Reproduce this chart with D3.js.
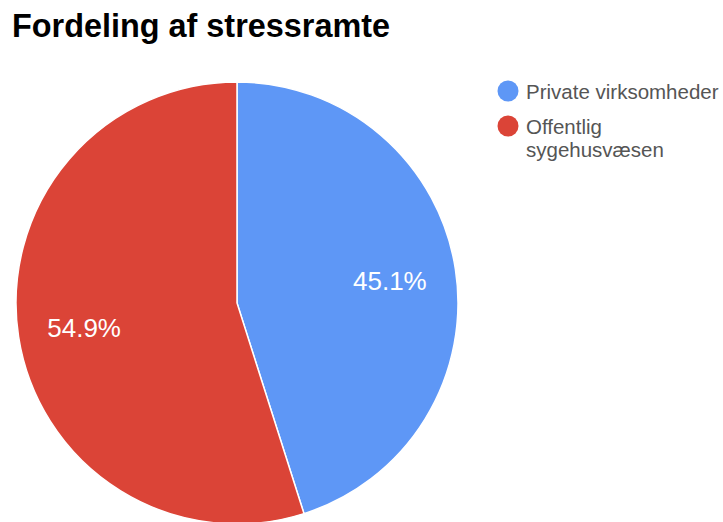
<!DOCTYPE html>
<html>
<head>
<meta charset="utf-8">
<script src="https://cdn.jsdelivr.net/npm/d3@7"></script>
<style>
  body { margin: 0; background: #fff; }
  svg { font-family: "Liberation Sans", Arial, sans-serif; }
</style>
</head>
<body>
<div id="chart"></div>
<script>
// chart data
const categories = ["Private virksomheder", "Offentlig sygehusvæsen"];
const values = [45.1, 54.9];
const legendLines = [["Private virksomheder"], ["Offentlig", "sygehusvæsen"]];
const colors = ["#5e97f6", "#db4437"];

const width = 723;
const height = 522;
const radius = 221;
const cx = 237;
const cy = 303;

const svg = d3.select("#chart")
    .append("svg")
    .attr("width", width)
    .attr("height", height);

// title
svg.append("text")
    .attr("x", 12)
    .attr("y", 37)
    .style("font-size", "32.4px")
    .style("font-weight", "bold")
    .style("fill", "#000")
    .text("Fordeling af stressramte");

const color = d3.scaleOrdinal().domain(categories).range(colors);

const pie = d3.pie().sort(null).value((d) => d);

const arc = d3.arc().outerRadius(radius).innerRadius(0);
const labelArc = d3.arc().outerRadius(radius * 0.7).innerRadius(radius * 0.7);

const g = svg.append("g")
    .attr("transform", `translate(${cx},${cy})`);

const slices = g.selectAll(".arc")
    .data(pie(values))
    .enter().append("g")
    .attr("class", "arc");

slices.append("path")
    .attr("d", arc)
    .style("fill", (d, i) => color(categories[i]))
    .style("stroke", "#fff")
    .style("stroke-width", 1.5);

slices.append("text")
    .attr("transform", (d) => `translate(${labelArc.centroid(d)})`)
    .attr("dy", ".4em")
    .attr("text-anchor", "middle")
    .style("font-size", "26px")
    .style("fill", "#fff")
    .text((d) => `${d.value.toFixed(1)}%`);

// legend
const legend = svg.append("g");
let y = 91;
legendLines.forEach((lines, i) => {
    legend.append("circle")
        .attr("cx", 508)
        .attr("cy", y)
        .attr("r", 10.5)
        .style("fill", color(categories[i]));
    lines.forEach((line, j) => {
        legend.append("text")
            .attr("x", 526)
            .attr("y", y + 7.5 + j * 23)
            .style("font-size", "20.5px")
            .style("fill", "#555")
            .text(line);
    });
    y += 35 + (lines.length - 1) * 23;
});
</script>
</body>
</html>
